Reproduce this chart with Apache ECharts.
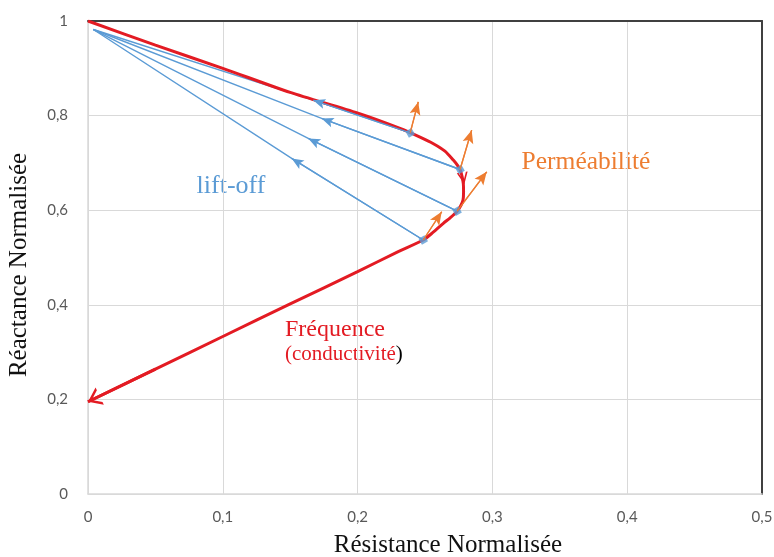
<!DOCTYPE html>
<html><head><meta charset="utf-8">
<script src="https://cdn.jsdelivr.net/npm/echarts@6/dist/echarts.min.js"></script>
<style>html,body{margin:0;padding:0;background:#fff}#c{width:774px;height:557px}</style>
</head><body><div id="c"></div>
<script>
// ---- data ----
const xTickLabels = ['0', '0,1', '0,2', '0,3', '0,4', '0,5'];
const yTickLabels = ['0', '0,2', '0,4', '0,6', '0,8', '1'];

// impedance curve, frequency sweep (conductivity), in drawing order
const frequencyCurve = [
  [0, 1], [0.05, 0.949], [0.1, 0.9], [0.15, 0.849], [0.2003, 0.805], [0.2315, 0.7728],
  [0.2463, 0.7544], [0.2559, 0.7411], [0.2648, 0.7249], [0.271, 0.7059], [0.2745, 0.6932],
  [0.2767, 0.6805], [0.2784, 0.6567], [0.2786, 0.6383], [0.2782, 0.6214], [0.2764, 0.6087],
  [0.2734, 0.5961], [0.2685, 0.5834], [0.2636, 0.5722], [0.2559, 0.553], [0.2487, 0.537],
  [0.229, 0.511], [0.2, 0.47], [0.15, 0.402], [0.1, 0.333], [0.05, 0.264], [0, 0.195]
];
// direction arrow on the curve (from, to) and end arrow (from, to)
const freqMidArrow = [[0.2776, 0.68], [0.2792, 0.655]];
const freqEndArrow = [[0.05, 0.264], [0, 0.195]];

// points on the curve where lift-off / permeability effects start
const liftOffPoints = [[0.239, 0.7635], [0.276, 0.686], [0.2738, 0.598], [0.2487, 0.537]];
const liftOffArrows = [[0.1671, 0.8326], [0.1733, 0.794], [0.1634, 0.7517], [0.1511, 0.7095]];
const liftOffOrigin = [0.004, 0.982];
const permeabilityTips = [[0.245, 0.829], [0.2846, 0.7692], [0.2958, 0.6812], [0.2624, 0.5967]];

// ---- styles ----
const RED = '#e31b23', BLUE = '#5b9bd5', ORANGE = '#ed7d31', GRID = '#d9d9d9';
const SERIF = '"Liberation Serif", "DejaVu Serif", serif';
// symbols point up with the tip at the centre of their box (a degenerate dot balances the box)
const PAD = ' M5,-10 L5.01,-10 L5,-9.99 Z';
const CHEVRON = 'path://M0,10 L5,0 L10,10 L8.4,10 L5,3.2 L1.6,10 Z' + PAD;
const HEAD = 'path://M5,0 L10,10 L5,7.8 L0,10 Z' + PAD;

function arrowLine(from, to, color, width, symbol, size) {
  return [
    { coord: from, symbol: 'none' },
    { coord: to, symbol: symbol, symbolSize: [size[0], size[1] * 2],
      lineStyle: { color: color, width: width, type: 'solid' } }
  ];
}

const series = [];
liftOffPoints.forEach(function (p, i) {
  series.push({
    type: 'line', data: [p, liftOffArrows[i], liftOffOrigin], showSymbol: false, silent: true,
    lineStyle: { color: BLUE, width: 1.4 }, z: 2,
    markLine: {
      silent: true, label: { show: false },
      lineStyle: { color: BLUE, width: 1.4, type: 'solid' },
      data: [arrowLine(p, liftOffArrows[i], BLUE, 1.4, HEAD, [10, 12])]
    }
  });
  series.push({
    type: 'line', data: [p, permeabilityTips[i]], showSymbol: false, silent: true,
    lineStyle: { color: ORANGE, width: 1.3 }, z: 2,
    markLine: {
      silent: true, label: { show: false },
      lineStyle: { color: ORANGE, width: 1.3, type: 'solid' },
      data: [arrowLine(p, permeabilityTips[i], ORANGE, 1.3, HEAD, [11, 13])]
    }
  });
});
series.push({
  type: 'line', data: frequencyCurve, smooth: 0.25, showSymbol: false, silent: true,
  lineStyle: { color: RED, width: 3 }, z: 3,
  markLine: {
    silent: true, label: { show: false },
    lineStyle: { color: RED, width: 3, type: 'solid' },
    data: [
      arrowLine(freqEndArrow[0], freqEndArrow[1], RED, 3, CHEVRON, [19, 13]),
      arrowLine(freqMidArrow[0], freqMidArrow[1], RED, 0.01, CHEVRON, [11, 12])
    ]
  }
});
// blue square markers at the lift-off start points
series.push({
  type: 'scatter', data: liftOffPoints, symbol: 'rect', symbolSize: 7, symbolRotate: 30,
  itemStyle: { color: BLUE }, silent: true, z: 4
});

const chart = echarts.init(document.getElementById('c'), null, { renderer: 'canvas' });
chart.setOption({
  animation: false,
  backgroundColor: '#fff',
  grid: { left: 88, right: 12, top: 21, bottom: 63, containLabel: false, outerBoundsMode: 'none' },
  xAxis: [{
    type: 'value', min: 0, max: 0.5, interval: 0.1,
    axisLine: { show: true, onZero: false, lineStyle: { color: GRID, width: 1.5 } },
    axisTick: { show: false },
    splitLine: { show: true, lineStyle: { color: GRID, width: 1 } },
    axisLabel: { margin: 16, color: '#595959', fontSize: 15, fontFamily: 'Lato, "Liberation Sans", sans-serif',
      formatter: function (v) { return xTickLabels[Math.round(v * 10)]; } }
  }, {
    type: 'value', position: 'top', min: 0, max: 0.5, interval: 0.1,
    axisLine: { show: true, onZero: false, lineStyle: { color: '#404040', width: 2 } },
    axisTick: { show: false }, axisLabel: { show: false }, splitLine: { show: false }
  }],
  yAxis: [{
    type: 'value', min: 0, max: 1, interval: 0.2,
    axisLine: { show: true, onZero: false, lineStyle: { color: GRID, width: 1.5 } },
    axisTick: { show: false },
    splitLine: { show: true, lineStyle: { color: GRID, width: 1 } },
    axisLabel: { margin: 20, color: '#595959', fontSize: 15, fontFamily: 'Lato, "Liberation Sans", sans-serif',
      formatter: function (v) { return yTickLabels[Math.round(v * 5)]; } }
  }, {
    type: 'value', position: 'right', min: 0, max: 1, interval: 0.2,
    axisLine: { show: true, onZero: false, lineStyle: { color: '#404040', width: 2 } },
    axisTick: { show: false }, axisLabel: { show: false }, splitLine: { show: false }
  }],
  series: series,
  graphic: [
    { type: 'text', x: 231, y: 186, silent: true,
      style: { text: 'lift-off', fill: BLUE, font: '26px ' + SERIF, align: 'center', verticalAlign: 'middle' } },
    { type: 'text', x: 586, y: 162, silent: true,
      style: { text: 'Perméabilité', fill: ORANGE, font: '25.5px ' + SERIF, align: 'center', verticalAlign: 'middle' } },
    { type: 'text', x: 285, y: 330, silent: true,
      style: { text: 'Fréquence', fill: RED, font: '24px ' + SERIF, align: 'left', verticalAlign: 'middle' } },
    { type: 'text', x: 285, y: 354, silent: true,
      style: { text: '{r|(conductivité}{k|)}', font: '21px ' + SERIF, align: 'left', verticalAlign: 'middle',
        rich: { r: { fill: RED, font: '21px ' + SERIF }, k: { fill: '#000', font: '21px ' + SERIF } } } },
    { type: 'text', x: 448, y: 545, silent: true,
      style: { text: 'Résistance Normalisée', fill: '#111', font: '25px ' + SERIF, align: 'center', verticalAlign: 'middle' } },
    { type: 'text', x: 19, y: 265, rotation: Math.PI / 2, silent: true,
      style: { text: 'Réactance Normalisée', fill: '#111', font: '25px ' + SERIF, align: 'center', verticalAlign: 'middle' } }
  ]
});
</script>
</body></html>
